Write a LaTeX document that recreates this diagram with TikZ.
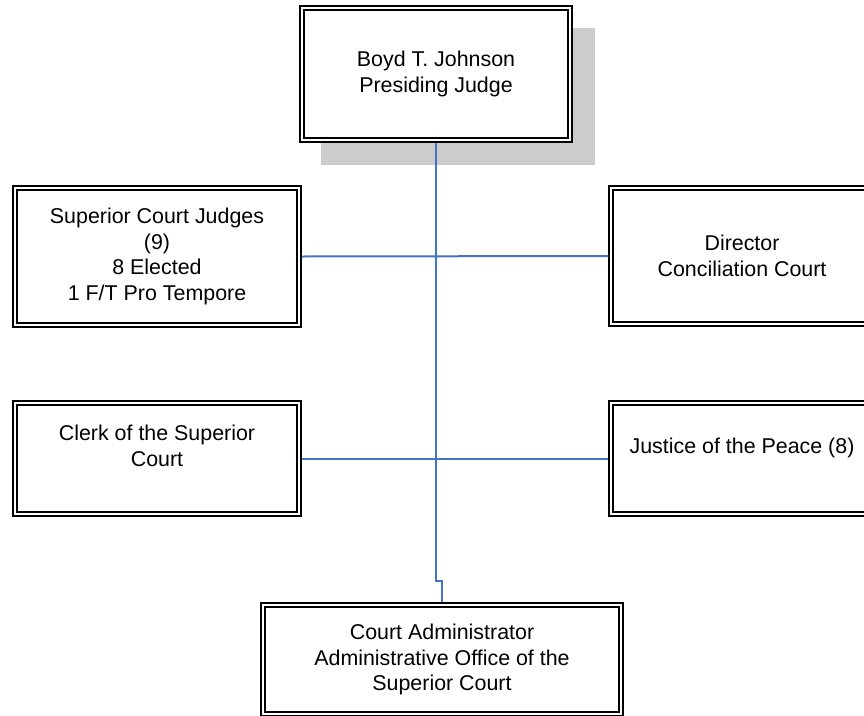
\documentclass[tikz,border=0pt]{standalone}
\usepackage{fontspec}
\setmainfont{Liberation Sans}
\definecolor{linkblue}{RGB}{68,114,196}
\definecolor{shadowgray}{RGB}{204,204,204}
\tikzset{
  orgbox/.style={draw=black, line width=1.3pt, fill=white, align=center,
    inner sep=0pt, font=\fontsize{21.4}{25.5}\selectfont},
  inner border/.style={draw=black, line width=2pt},
  link/.style={draw=linkblue, line width=2pt},
}
\begin{document}
\begin{tikzpicture}[x=1pt, y=-1pt]
\useasboundingbox (0,0) rectangle (864,715);
% shadow
\fill[shadowgray] (321,28) rectangle (595,165);
% nodes
\node[orgbox, minimum width=272pt, minimum height=136pt] (top) at (436,74) {Boyd T. Johnson\\Presiding Judge};
\node[orgbox, minimum width=288pt, minimum height=141pt] (sup) at (157,256.5) {Superior Court Judges\\(9)\\8 Elected\\1 F/T Pro Tempore};
\node[orgbox, minimum width=266pt, minimum height=140pt] (dir) at (742,256) {Director\\Conciliation Court};
\node[orgbox, minimum width=288pt, minimum height=115pt] (clerk) at (157,458.5) {Clerk of the Superior\\Court\\\mbox{}};
\node[orgbox, minimum width=266pt, minimum height=115pt] (jp) at (742,458.5) {Justice of the Peace (8)\\\mbox{}};
\node[orgbox, minimum width=362pt, minimum height=113pt] (adm) at (442,659.5) {Court Administrator\\Administrative Office of the\\Superior Court};
% inner borders
\foreach \n in {top,sup,dir,clerk,jp,adm}{
  \draw[inner border] ([shift={(4.5pt,4.5pt)}]\n.south west) rectangle ([shift={(-4.5pt,-4.5pt)}]\n.north east);
}
% connectors
\coordinate (jog) at (435.5,580.5);
\draw[link] (top.south -| jog) -- (jog) -| (adm.north);
\draw[link] (sup.east) -- (dir.west);
\draw[link] (clerk.east) -- (jp.west);
\end{tikzpicture}
\end{document}
